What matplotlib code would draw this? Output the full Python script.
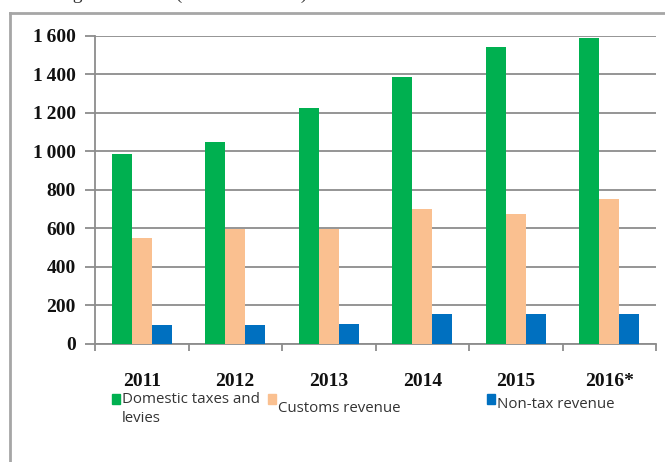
import numpy as np
import matplotlib
matplotlib.use("Agg")
import matplotlib.pyplot as plt
from matplotlib.ticker import FuncFormatter, FixedLocator
from matplotlib.patches import Rectangle

years = ["2011", "2012", "2013", "2014", "2015", "2016*"]
domestic = [985, 1047, 1226, 1386, 1543, 1588]
customs = [548, 596, 597, 699, 675, 753]
non_tax = [94, 94, 101, 155, 155, 155]

series_names = ["Domestic taxes and\nlevies", "Customs revenue", "Non-tax revenue"]
colors = ["#00B050", "#FAC090", "#0070C0"]

SERIF = ["Liberation Serif", "DejaVu Serif"]
SANS = ["Open Sans", "DejaVu Sans"]

fig = plt.figure(figsize=(6.65, 4.62), dpi=100)
W, H = 665, 462


def fx(px):
    return px / W


def fy(py):
    # pixel row from the top -> figure fraction
    return 1 - py / H


# outer frame of the original chart object (left and top edges visible)
fig.add_artist(plt.Line2D([fx(10), fx(10)], [0, fy(13)], color="#a6a6a6", lw=2,
                          transform=fig.transFigure))
fig.add_artist(plt.Line2D([fx(10), 1], [fy(13), fy(13)], color="#a6a6a6", lw=2,
                          transform=fig.transFigure))

# caption above the chart, cut off by the crop
fig.text(fx(40), fy(-1.5), "Budget revenues (in GEL million)", fontsize=14,
         family=SERIF, va="baseline", ha="left", color="#333333")

ax = fig.add_axes([fx(95), fy(343.5), fx(656 - 95), (343.5 - 36) / H])

x = np.arange(len(years))
bw = 0.214
for i, (vals, c) in enumerate(zip([domestic, customs, non_tax], colors)):
    ax.bar(x + (i - 1) * bw, vals, width=bw, color=c, zorder=3)

ax.set_xlim(-0.5, len(years) - 0.5)
ax.set_ylim(0, 1600)
ax.yaxis.set_major_locator(FixedLocator(range(0, 1601, 200)))
ax.yaxis.set_major_formatter(FuncFormatter(lambda v, p: f"{int(v):,}".replace(",", "\u2009")))
ax.grid(axis="y", color="#8c8c8c", lw=1.3, zorder=0)

for s in ["top", "right"]:
    ax.spines[s].set_visible(False)
for s in ["left", "bottom"]:
    ax.spines[s].set_color("#8c8c8c")
    ax.spines[s].set_linewidth(1.3)

ax.tick_params(axis="y", length=7, width=1.3, color="#8c8c8c", pad=7,
               labelsize=14)
ax.set_xticks(x)
ax.set_xticklabels(years)
ax.set_xticks(np.arange(-0.5, len(years), 1), minor=True)
ax.tick_params(axis="x", which="major", length=0, pad=21, labelsize=14)
ax.tick_params(axis="x", which="minor", length=5, width=1.3, color="#8c8c8c")
for lab in ax.get_yticklabels() + ax.get_xticklabels():
    lab.set_family(SERIF)
    lab.set_fontweight("bold")
    lab.set_color("#111111")

# legend drawn by hand: the original places its three entries unevenly
legend_pos = [(112, 394, 392), (268, 394, 408), (487, 394, 404)]  # key x, key top, text y
for (kx, ktop, ty), name, c in zip(legend_pos, series_names, colors):
    fig.add_artist(Rectangle((fx(kx), fy(ktop + 10)), fx(8), 10 / H, color=c,
                             transform=fig.transFigure))
    fig.text(fx(kx + 10), fy(ty), name, fontsize=10.8, family=SANS,
             color="#333333", va="top" if "\n" in name else "center", ha="left",
             linespacing=1.35)

fig.savefig("out.png", dpi=100)
